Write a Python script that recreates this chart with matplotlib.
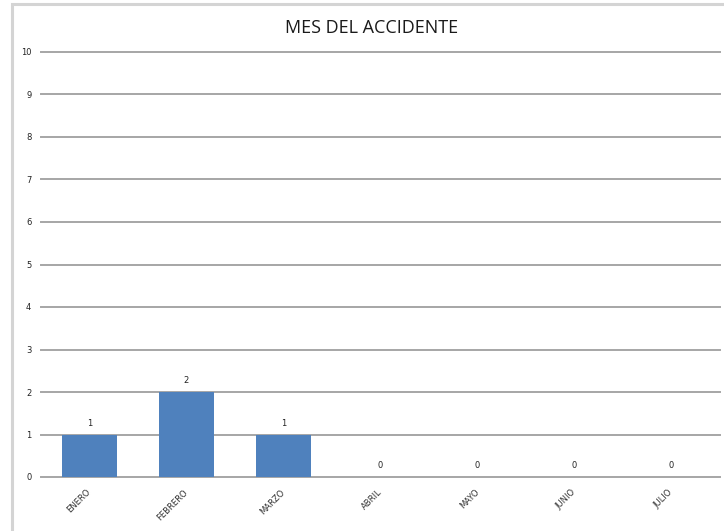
import matplotlib.pyplot as plt
import matplotlib.patches as mpatches
import numpy as np

# meses y número de accidentes
meses = ['ENERO', 'FEBRERO', 'MARZO', 'ABRIL', 'MAYO', 'JUNIO', 'JULIO']
accidentes = [1, 2, 1, 0, 0, 0, 0]

W, H = 724, 531
fig = plt.figure(figsize=(W / 100, H / 100), dpi=100)
ax = fig.add_axes([41 / W, (H - 477) / H, (720 - 41) / W, (477 - 52) / H])

# marco gris del área del gráfico
fig.patches.append(mpatches.Rectangle((12 / W, -0.05), 1.2, (H - 4) / H + 0.05,
                                      transform=fig.transFigure, fill=False,
                                      edgecolor='#d4d4d4', linewidth=2.2))

x = np.arange(len(meses))
bars = ax.bar(x, accidentes, width=0.57, color='#4f81bd', zorder=3)

for xi, v in zip(x, accidentes):
    ax.annotate(str(v), (xi, v), xytext=(0, 5), textcoords='offset points',
                ha='center', va='bottom', fontsize=6, color='#222222')

ax.set_xlim(-0.5, len(meses) - 0.5)
ax.set_ylim(0, 10)
ax.set_yticks(np.arange(0, 11, 1))
ax.yaxis.grid(True, color='#a6a6a6', linewidth=1.4, zorder=0)
for gl in ax.get_ygridlines():
    gl.set_clip_on(False)
ax.set_axisbelow(True)
for s in ax.spines.values():
    s.set_visible(False)
ax.tick_params(axis='both', length=0, labelsize=6, colors='#222222')
ax.tick_params(axis='y', pad=7)

ax.set_xticks(x)
ax.set_xticklabels(meses, rotation=45, ha='right', va='center',
                   rotation_mode='anchor', fontsize=6, color='#333333')
ax.tick_params(axis='x', pad=10)

fig.text(372 / W, (H - 28) / H, 'MES DEL ACCIDENTE', ha='center', va='center',
         fontsize=13, family='Open Sans', color='#1a1a1a')

fig.savefig('out.png', dpi=100)
